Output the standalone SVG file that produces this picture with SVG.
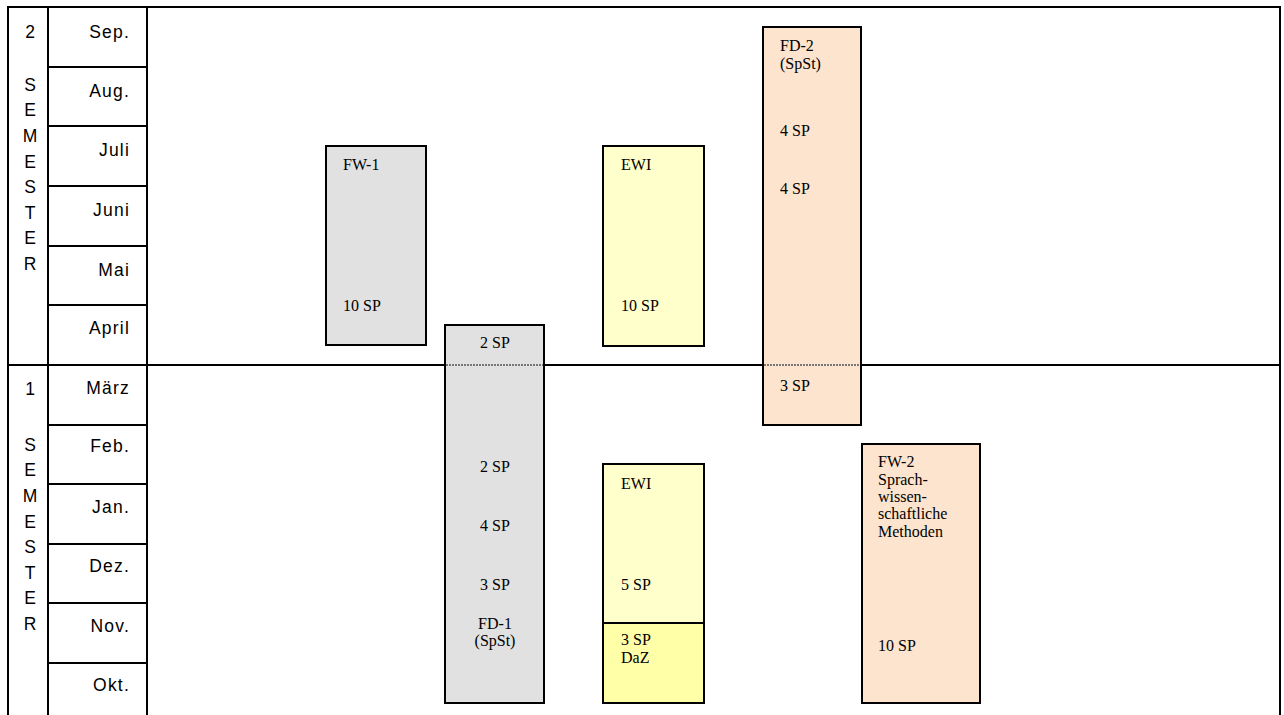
<svg xmlns="http://www.w3.org/2000/svg" width="1284" height="715" viewBox="0 0 1284 715">
<style>
.grid{stroke:#000;stroke-width:2;fill:none}
.lbl{font-family:"Liberation Sans",Arial,sans-serif;font-size:17.5px;fill:#000}
.mon{text-anchor:end;letter-spacing:1.2px}
.sem{text-anchor:middle}
.t{font-family:"Liberation Serif","Times New Roman",serif;font-size:16px;fill:#000}
.c{text-anchor:middle}
.box{stroke:#000;stroke-width:2}
.gray{fill:#e1e1e1}
.yel{fill:#ffffcc}
.daz{fill:#ffffa8}
.ora{fill:#fde4cf}
.thru{stroke:#777;stroke-width:2;stroke-dasharray:2 1}
</style>
<rect width="1284" height="715" fill="#fff"/>
<g id="table">
<path class="grid" d="M8,715V7H1280V715M48,7V715M147,7V715M8,365H1280"/>
<path class="grid" d="M48,67H147M48,126H147M48,186H147M48,246H147M48,305H147M48,425H147M48,484H147M48,544H147M48,603H147M48,663H147"/>
<g class="lbl sem">
<text x="30" y="38">2</text>
<text x="30" y="91">S</text><text x="30" y="116">E</text><text x="30" y="142">M</text><text x="30" y="168">E</text><text x="30" y="193">S</text><text x="30" y="219">T</text><text x="30" y="244">E</text><text x="30" y="270">R</text>
<text x="30" y="395">1</text>
<text x="30" y="451">S</text><text x="30" y="476">E</text><text x="30" y="502">M</text><text x="30" y="528">E</text><text x="30" y="553">S</text><text x="30" y="579">T</text><text x="30" y="604">E</text><text x="30" y="630">R</text>
</g>
<g class="lbl mon">
<text x="130" y="38">Sep.</text>
<text x="130" y="97">Aug.</text>
<text x="130" y="156">Juli</text>
<text x="130" y="216">Juni</text>
<text x="130" y="276">Mai</text>
<text x="130" y="334">April</text>
<text x="130" y="394">März</text>
<text x="130" y="452">Feb.</text>
<text x="130" y="513">Jan.</text>
<text x="130" y="572">Dez.</text>
<text x="130" y="632">Nov.</text>
<text x="130" y="691">Okt.</text>
</g>
</g>
<g id="fw1">
<rect class="box gray" x="326" y="146" width="100" height="199"/>
<text class="t" x="343" y="170">FW-1</text>
<text class="t" x="343" y="311">10 SP</text>
</g>
<g id="fd1">
<rect class="box gray" x="445" y="325" width="99" height="378"/>
<g class="t c">
<text x="495" y="348">2 SP</text>
<text x="495" y="472">2 SP</text>
<text x="495" y="531">4 SP</text>
<text x="495" y="590">3 SP</text>
<text x="495" y="629">FD-1</text>
<text x="495" y="646">(SpSt)</text>
</g>
</g>
<g id="ewi2">
<rect class="box yel" x="603" y="146" width="101" height="200"/>
<text class="t" x="621" y="170">EWI</text>
<text class="t" x="621" y="311">10 SP</text>
</g>
<g id="ewi1">
<rect class="box yel" x="603" y="464" width="101" height="159"/>
<text class="t" x="621" y="489">EWI</text>
<text class="t" x="621" y="590">5 SP</text>
</g>
<g id="daz">
<rect class="box daz" x="603" y="623" width="101" height="80"/>
<text class="t" x="621" y="645">3 SP</text>
<text class="t" x="621" y="663">DaZ</text>
</g>
<g id="fd2">
<rect class="box ora" x="763" y="27" width="98" height="398"/>
<text class="t" x="780" y="51">FD-2</text>
<text class="t" x="780" y="69">(SpSt)</text>
<text class="t" x="780" y="136">4 SP</text>
<text class="t" x="780" y="194">4 SP</text>
<text class="t" x="780" y="391">3 SP</text>
</g>
<g id="fw2">
<rect class="box ora" x="862" y="444" width="118" height="259"/>
<text class="t" x="878" y="467">FW-2</text>
<text class="t" x="878" y="485">Sprach-</text>
<text class="t" x="878" y="502">wissen-</text>
<text class="t" x="878" y="519">schaftliche</text>
<text class="t" x="878" y="537">Methoden</text>
<text class="t" x="878" y="651">10 SP</text>
</g>
<g id="connectors">
<path class="thru" d="M446,365H543M764,365H860"/>
</g>
</svg>
